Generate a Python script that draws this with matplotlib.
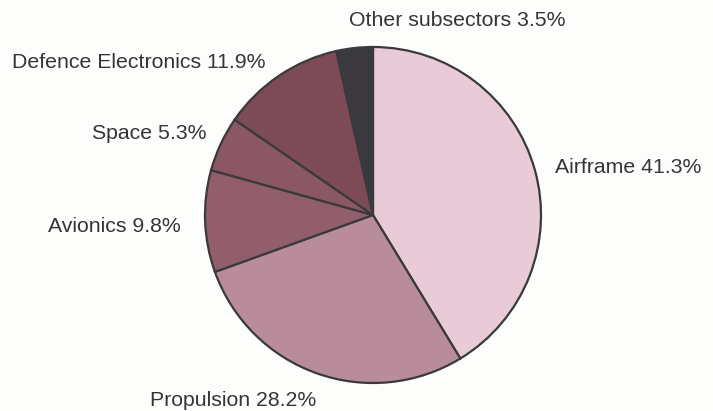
import matplotlib
matplotlib.use("Agg")
import matplotlib.pyplot as plt

sectors = ["Airframe", "Propulsion", "Avionics", "Space",
           "Defence Electronics", "Other subsectors"]
shares = [41.3, 28.2, 9.8, 5.3, 11.9, 3.5]
colors = ["#e9cbd7", "#b98c9c", "#925e6c", "#8b5765", "#7c4b57", "#3b393d"]

W, H = 713, 411
fig = plt.figure(figsize=(W / 100, H / 100), dpi=100, facecolor="#fdfdfb")
ax = fig.add_axes([0, 0, 1, 1])
ax.set_xlim(0, W)
ax.set_ylim(0, H)
ax.set_aspect("equal")
ax.axis("off")

cx, cy, r = 373, H - 215, 168
ax.pie(shares, colors=colors, startangle=90, counterclock=False,
       center=(cx, cy), radius=r,
       wedgeprops=dict(edgecolor="#3a3a3c", linewidth=1.6))
ax.set_xlim(0, W)
ax.set_ylim(0, H)

label_pos = {
    "Other subsectors": (457, 20, "center"),
    "Airframe": (555, 167, "left"),
    "Defence Electronics": (12, 62, "left"),
    "Space": (92, 133, "left"),
    "Avionics": (48, 226, "left"),
    "Propulsion": (150, 400, "left"),
}
for name, val in zip(sectors, shares):
    x, y, ha = label_pos[name]
    ax.text(x, H - y, f"{name} {val}%", ha=ha, va="center",
            fontsize=15.3, family="Liberation Sans", color="#353535")

fig.savefig("out.png", dpi=100, facecolor=fig.get_facecolor())
